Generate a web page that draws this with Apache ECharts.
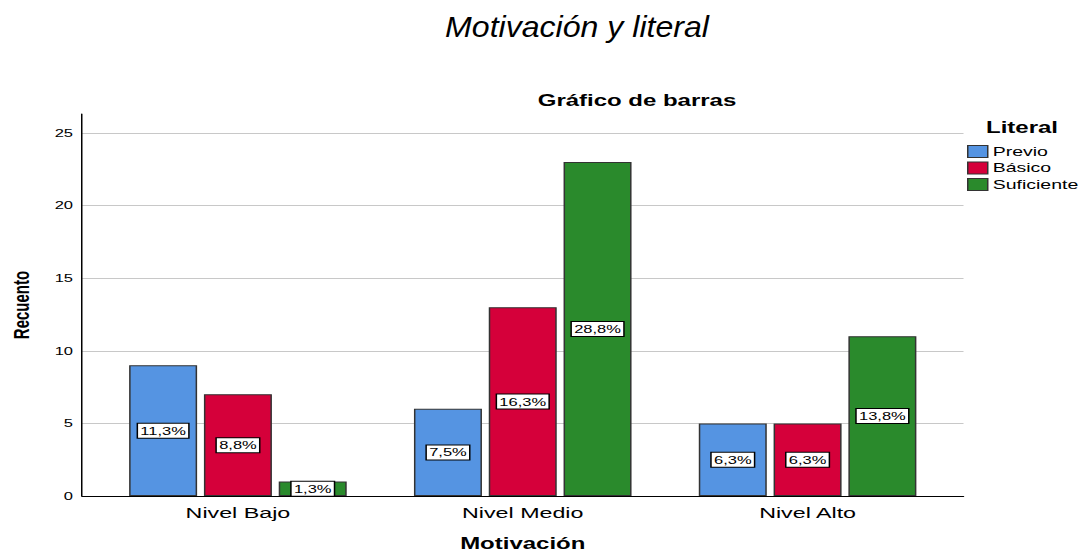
<!DOCTYPE html>
<html><head><meta charset="utf-8">
<script src="https://cdn.jsdelivr.net/npm/echarts@6/dist/echarts.min.js"></script>
<style>html,body{margin:0;padding:0;background:#fff;overflow:hidden}
#c{width:720.67px;height:552px;transform:scaleX(1.5);transform-origin:0 0}</style>
</head><body><div id="c"></div>
<script>
var categories = ['Nivel Bajo', 'Nivel Medio', 'Nivel Alto'];
var seriesNames = ['Previo', 'Básico', 'Suficiente'];
var previo = [9, 6, 5];
var basico = [7, 13, 5];
var suficiente = [1, 23, 11];
var previoPct = ['11,3%', '7,5%', '6,3%'];
var basicoPct = ['8,8%', '16,3%', '6,3%'];
var suficientePct = ['1,3%', '28,8%', '13,8%'];
var yTicks = [0, 5, 10, 15, 20, 25];
var colors = ['#5594E2', '#D5003A', '#2A8A2C'];

var S = 1.5; // horizontal stretch of the reference picture
var FONT = 'Arial, "Liberation Sans", sans-serif';
var chart = echarts.init(document.getElementById('c'), null, {renderer: 'svg'});
function mk(name, vals, pcts, color) {
  return {
    name: name, type: 'bar', xAxisIndex: 1, yAxisIndex: 1,
    barWidth: 68 / S, barGap: '10%',
    data: vals,
    itemStyle: {color: color, borderColor: '#333', borderWidth: 1},
    label: {
      show: true, position: 'inside',
      formatter: function (p) { return pcts[p.dataIndex]; },
      color: '#000', fontFamily: FONT, fontSize: 11,
      backgroundColor: '#fff', borderColor: '#000', borderWidth: 1,
      padding: [2, 1.5, 1, 1.5]
    },
    emphasis: {disabled: true}
  };
}
var ymax = 26.3;
chart.setOption({
  animation: false,
  graphic: [
    {type: 'text', x: 577 / S, y: 27, scaleX: 1.07 / S,
     style: {text: 'Motivación y literal', fill: '#000', align: 'center', verticalAlign: 'middle',
             font: 'italic 30px ' + FONT}}
  ],
  title: [
    {text: 'Gráfico de barras', left: 637 / S, top: 93, textAlign: 'center', padding: 0,
     textStyle: {fontWeight: 'bold', fontSize: 16, color: '#000', fontFamily: FONT}},
    {text: 'Literal', left: 1022 / S, top: 120, textAlign: 'center', padding: 0,
     textStyle: {fontWeight: 'bold', fontSize: 16, color: '#000', fontFamily: FONT}}
  ],
  legend: {
    orient: 'vertical', left: 967 / S, top: 145, itemGap: 3.5, padding: 0,
    itemWidth: 20 / S, itemHeight: 12, icon: 'rect',
    data: seriesNames,
    itemStyle: {borderColor: '#333', borderWidth: 1},
    textStyle: {fontSize: 13, lineHeight: 13, color: '#000', padding: [0, 0, 0, -1.7], fontFamily: FONT}
  },
  grid: [
    {left: 82 / S, right: 118 / S, top: 114, bottom: 56, outerBoundsMode: 'none'},
    {left: 95.5 / S, right: 131.5 / S, top: 114, bottom: 56, outerBoundsMode: 'none'}
  ],
  xAxis: [
    {type: 'category', gridIndex: 0, data: [''], axisLine: {lineStyle: {color: '#000'}},
     axisTick: {show: false}, axisLabel: {show: false}},
    {type: 'category', gridIndex: 1, data: categories,
     axisLine: {show: false}, axisTick: {show: false},
     axisLabel: {fontSize: 15.5, color: '#000', margin: 9, fontFamily: FONT},
     name: 'Motivación', nameLocation: 'middle', nameGap: 40,
     nameTextStyle: {fontWeight: 'bold', fontSize: 16, color: '#000', fontFamily: FONT}}
  ],
  yAxis: [
    {type: 'value', gridIndex: 0, min: yTicks[0], max: ymax, interval: yTicks[1] - yTicks[0],
     axisLine: {show: true, lineStyle: {color: '#000'}},
     axisTick: {show: false},
     axisLabel: {showMaxLabel: false, fontSize: 11, color: '#000', margin: 6, fontFamily: FONT},
     splitLine: {show: true, showMaxLine: false, lineStyle: {color: '#C8C8C8', width: 1}},
     name: 'Recuento', nameLocation: 'middle', nameGap: 61 / S, nameRotate: 90,
     nameTextStyle: {fontWeight: 'bold', fontSize: 15, color: '#000', fontFamily: FONT,
                     verticalAlign: 'middle'}},
    {type: 'value', gridIndex: 1, min: 0, max: ymax, show: false}
  ],
  series: [
    mk(seriesNames[0], previo, previoPct, colors[0]),
    mk(seriesNames[1], basico, basicoPct, colors[1]),
    mk(seriesNames[2], suficiente, suficientePct, colors[2])
  ]
});
</script>
</body></html>
